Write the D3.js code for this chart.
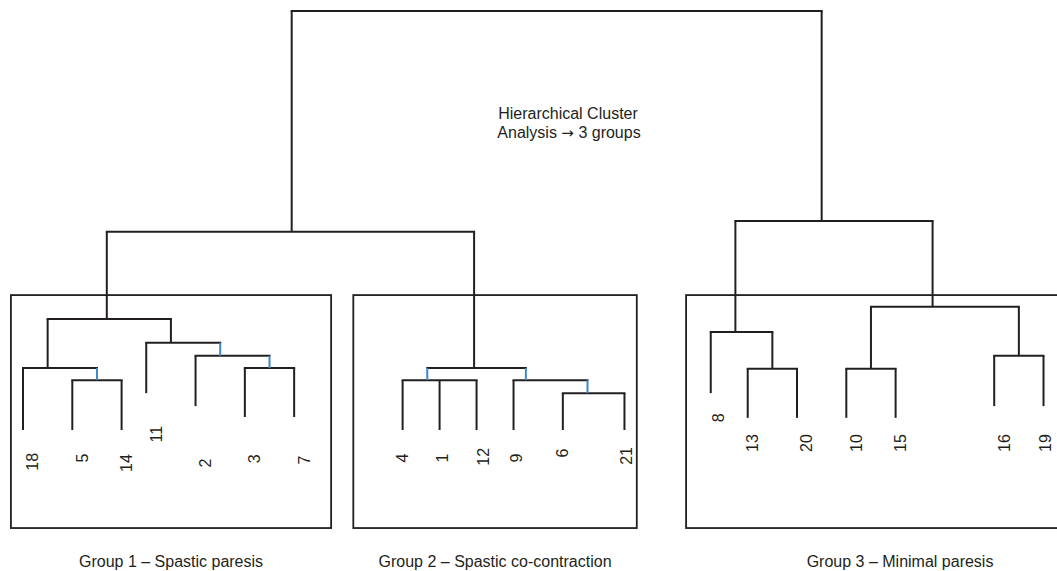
<!DOCTYPE html>
<html>
<head>
<meta charset="utf-8">
<script src="https://cdn.jsdelivr.net/npm/d3@7"></script>
<style>
  html, body { margin: 0; padding: 0; background: #fff; }
  svg { display: block; font-family: "Liberation Sans", Arial, sans-serif; }
</style>
</head>
<body>
<svg id="chart" width="1057" height="571"></svg>
<script>
// merge nodes of the dendrogram (height = linkage distance, pos = position along leaf axis)
const mergeIds     = ['root', 'A', 'G3', 'G1', 'G2', 'G1L', 'G1La', 'G1R', 'G1Ra', 'G1Rb', 'G2a', 'G2b', 'G2ba', 'G3a', 'G3aa', 'G3b', 'G3ba', 'G3bb']
const mergeParents = ['', 'root', 'root', 'A', 'A', 'G1', 'G1L', 'G1', 'G1R', 'G1Ra', 'G2', 'G2', 'G2b', 'G3', 'G3a', 'G3', 'G3b', 'G3b']
const mergeHeights = [100, 47.3, 49.9, 26.5, 14.8, 14.8, 11.9, 20.8, 17.7, 14.8, 11.9, 11.9, 8.8, 23.4, 14.6, 29.4, 14.6, 17.7]
const mergePos     = [21, 10.9, 32.4, 3.4, 18.3, 1.0, 3.0, 6.0, 8.0, 10.0, 16.4, 20.4, 22.9, 28.9, 30.4, 36.9, 34.4, 40.4]

// leaves (patients)
const leafNames   = ['18', '5', '14', '11', '2', '3', '7', '4', '1', '12', '9', '6', '21', '8', '13', '20', '10', '15', '16', '19']
const leafParents = ['G1L', 'G1La', 'G1La', 'G1R', 'G1Ra', 'G1Rb', 'G1Rb', 'G2a', 'G2a', 'G2a', 'G2b', 'G2ba', 'G2ba', 'G3a', 'G3aa', 'G3aa', 'G3ba', 'G3ba', 'G3bb', 'G3bb']
const leafHeights = [0, 0, 0, 8.8, 5.7, 3.1, 3.1, 0, 0, 0, 0, 0, 0, 8.8, 2.9, 2.9, 2.9, 2.9, 5.7, 5.7]
const leafPos     = [0, 2, 4, 5, 7, 9, 11, 15.4, 16.9, 18.4, 19.9, 21.9, 24.4, 27.9, 29.4, 31.4, 33.4, 35.4, 39.4, 41.4]

// where each leaf label sits
const labelPos     = [0.4, 2.4, 4.2, 5.4, 7.4, 9.4, 11.4, 15.4, 17.0, 18.7, 20.0, 21.9, 24.5, 28.2, 29.6, 31.8, 33.8, 35.6, 39.8, 41.5]
const labelHeights = [-7.6, -6.7, -7.9, -1.0, -7.9, -6.9, -7.2, -6.7, -6.7, -6.4, -6.7, -5.5, -6.2, 2.9, -3.1, -3.1, -3.1, -3.1, -3.1, -3.1]

// links drawn in blue
const blueLinks = ['G1La', 'G1Ra', 'G1Rb', 'G2a', 'G2b', 'G2ba']

// groups
const groupCaptions = ['Group 1 \u2013 Spastic paresis', 'Group 2 \u2013 Spastic co-contraction', 'Group 3 \u2013 Minimal paresis']
const groupSpans    = [[-0.49, 12.5], [13.4, 24.9], [26.9, 44.26]]

// title, line 2 split around the arrow
const titleLine1 = 'Hierarchical Cluster'
const titleLine2 = ['Analysis ', '\u2192', ' 3 groups']

// ---- layout ----
const ink = '#231f20'
const blue = '#3f88c8'
const x = d3.scaleLinear().domain([0, 42]).range([23, 23 + 42 * 24.65])
const y = d3.scaleLinear().domain([0, 100]).range([430, 11])
const boxTop = 32.2
const boxBottom = -23.4

const table = mergeIds.map((id, i) => ({ id, parent: mergeParents[i], height: mergeHeights[i], pos: mergePos[i] }))
  .concat(leafNames.map((id, i) => ({ id, parent: leafParents[i], height: leafHeights[i], pos: leafPos[i] })))

const root = d3.stratify()
  .id(d => d.id)
  .parentId(d => d.parent || null)(table)

const svg = d3.select('#chart')

// group boxes
svg.append('g')
  .selectAll('rect')
  .data(groupSpans)
  .enter()
  .append('rect')
  .attr('x', d => x(d[0]))
  .attr('y', y(boxTop))
  .attr('width', d => x(d[1]) - x(d[0]))
  .attr('height', y(boxBottom) - y(boxTop))
  .style('fill', 'none')
  .style('stroke', ink)
  .style('stroke-width', 1.8)

// captions
svg.append('g')
  .selectAll('text')
  .data(groupCaptions)
  .enter()
  .append('text')
  .attr('x', (d, i) => (x(groupSpans[i][0]) + x(groupSpans[i][1])) / 2)
  .attr('y', 567)
  .attr('text-anchor', 'middle')
  .style('font-size', '16px')
  .style('fill', ink)
  .text(d => d)

const tree = svg.append('g')

// horizontal bars at each merge
tree.selectAll('.bar')
  .data(root.descendants().filter(d => d.children))
  .enter()
  .append('line')
  .attr('class', 'bar')
  .attr('x1', d => x(d3.min(d.children, c => c.data.pos)))
  .attr('x2', d => x(d3.max(d.children, c => c.data.pos)))
  .attr('y1', d => y(d.data.height))
  .attr('y2', d => y(d.data.height))
  .style('stroke', ink)
  .style('stroke-width', 2)
  .style('stroke-linecap', 'square')

// vertical drops from parent to child
tree.selectAll('.drop')
  .data(root.links())
  .enter()
  .append('line')
  .attr('class', 'drop')
  .attr('x1', d => x(d.target.data.pos))
  .attr('x2', d => x(d.target.data.pos))
  .attr('y1', d => y(d.source.data.height))
  .attr('y2', d => y(d.target.data.height))
  .style('stroke', d => blueLinks.includes(d.target.id) ? blue : ink)
  .style('stroke-width', 2)

// leaf labels
svg.append('g')
  .selectAll('text')
  .data(leafNames)
  .enter()
  .append('text')
  .attr('transform', (d, i) => `translate(${x(labelPos[i])}, ${y(labelHeights[i])}) rotate(-90)`)
  .attr('text-anchor', 'middle')
  .attr('dominant-baseline', 'central')
  .style('font-size', '16px')
  .style('fill', ink)
  .text(d => d)

// title
const title = svg.append('g')
  .attr('text-anchor', 'middle')
  .style('font-size', '16px')
  .style('fill', ink)

title.append('text')
  .attr('x', 568)
  .attr('y', 119)
  .text(titleLine1)

title.append('text')
  .attr('x', 569)
  .attr('y', 138)
  .selectAll('tspan')
  .data(titleLine2)
  .enter()
  .append('tspan')
  .style('font-family', (d, i) => i === 1 ? '"DejaVu Sans", sans-serif' : null)
  .style('font-size', (d, i) => i === 1 ? '15px' : null)
  .text(d => d)
</script>
</body>
</html>
